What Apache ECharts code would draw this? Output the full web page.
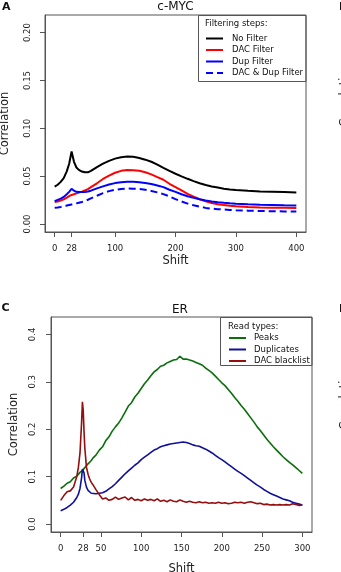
<!DOCTYPE html>
<html><head><meta charset="utf-8">
<script src="https://cdn.jsdelivr.net/npm/echarts@6/dist/echarts.min.js"></script>
<style>html,body{margin:0;padding:0;background:#fff}#c{width:341px;height:572px}</style>
</head><body><div id="c"></div>
<script>
// ---------- Panel A: c-MYC ----------
const shiftA = [0,5,10,15,20,24,28,32,36,40,45,50,55,60,70,80,90,100,110,120,130,140,150,160,170,180,190,200,210,220,230,240,250,260,270,280,290,300,320,340,360,380,400];
const noFilter = [0.039,0.041,0.044,0.048,0.055,0.063,0.0757,0.065,0.059,0.0565,0.0548,0.054,0.054,0.0555,0.0595,0.063,0.066,0.0683,0.0698,0.0704,0.0702,0.069,0.0672,0.065,0.062,0.0587,0.0555,0.0525,0.0498,0.0472,0.0448,0.0425,0.0408,0.0392,0.038,0.0368,0.036,0.0354,0.0346,0.034,0.0337,0.0334,0.0329];
const dacFilter = [0.0228,0.0235,0.0245,0.0258,0.0275,0.029,0.0303,0.031,0.032,0.0328,0.0338,0.035,0.0365,0.0385,0.0425,0.047,0.0505,0.0535,0.0555,0.0563,0.0562,0.0556,0.054,0.0518,0.049,0.0462,0.042,0.0385,0.035,0.0315,0.0285,0.0258,0.0237,0.022,0.0207,0.0197,0.019,0.0185,0.0178,0.0173,0.017,0.0169,0.0168];
const dupFilter = [0.0239,0.0252,0.0265,0.0283,0.031,0.0335,0.0368,0.0348,0.0336,0.0333,0.0333,0.0335,0.034,0.0348,0.0372,0.0393,0.0412,0.0427,0.0436,0.044,0.044,0.0437,0.0428,0.0418,0.0402,0.0385,0.0358,0.0335,0.031,0.029,0.0273,0.0258,0.0245,0.0235,0.0227,0.0221,0.0216,0.0212,0.0205,0.0201,0.0198,0.0195,0.0193];
const dacDupFilter = [0.0169,0.0173,0.0178,0.0184,0.0192,0.0198,0.0204,0.021,0.0215,0.0222,0.023,0.024,0.0253,0.0268,0.0295,0.0322,0.0343,0.0357,0.0366,0.037,0.0369,0.0365,0.0357,0.0345,0.033,0.0312,0.0288,0.026,0.0235,0.0213,0.0195,0.018,0.0168,0.016,0.0155,0.0151,0.0147,0.0144,0.0139,0.0135,0.0133,0.0131,0.013];
const namesA = ['No Filter','DAC Filter','Dup Filter','DAC & Dup Filter'];
const xTicksA = [0,28,100,200,300,400];
const yTicksA = [0,0.05,0.1,0.15,0.2];

// ---------- Panel C: ER ----------
const shiftC = [0,4,8,12,16,20,22,24,26,27,28,29,30,32,34,36,38,
  40,44,48,52,56,60,64,68,72,76,80,84,88,92,96,100,104,108,112,116,120,124,128,132,136,140,144,148,152,156,160,164,168,172,176,180,184,188,192,196,200,204,208,212,216,220,224,228,232,236,240,244,248,252,256,260,264,268,272,276,280,284,288,292,296,300];
const peaks = [0.075,0.080,0.086,0.089,0.097,0.101,0.105,0.109,0.112,0.113,0.117,0.116,0.119,0.121,0.127,0.130,0.134,
  0.139,0.146,0.156,0.163,0.176,0.184,0.196,0.205,0.213,0.224,0.236,0.249,0.256,0.268,0.276,0.286,0.296,0.304,0.313,0.321,0.326,0.333,0.335,0.340,0.343,0.346,0.347,0.354,0.348,0.348,0.346,0.344,0.341,0.338,0.335,0.329,0.324,0.319,0.312,0.305,0.298,0.292,0.284,0.276,0.267,0.259,0.250,0.242,0.233,0.224,0.215,0.205,0.197,0.188,0.179,0.171,0.163,0.156,0.149,0.142,0.136,0.130,0.125,0.119,0.113,0.107];
const duplicates = [0.028,0.031,0.035,0.040,0.046,0.056,0.063,0.075,0.098,0.116,0.120,0.108,0.092,0.078,0.071,0.067,0.065,
  0.065,0.064,0.065,0.066,0.069,0.074,0.079,0.085,0.092,0.099,0.106,0.112,0.118,0.124,0.129,0.136,0.141,0.146,0.151,0.156,0.159,0.163,0.165,0.167,0.169,0.170,0.171,0.172,0.173,0.172,0.170,0.167,0.165,0.164,0.161,0.158,0.154,0.150,0.145,0.140,0.136,0.131,0.126,0.121,0.116,0.111,0.107,0.102,0.097,0.092,0.087,0.082,0.078,0.073,0.069,0.065,0.062,0.059,0.056,0.053,0.051,0.049,0.046,0.044,0.042,0.040];
const dacBlacklist = [0.050,0.060,0.068,0.070,0.078,0.100,0.120,0.150,0.215,0.258,0.240,0.195,0.160,0.120,0.105,0.095,0.088,
  0.083,0.072,0.062,0.053,0.055,0.050,0.052,0.057,0.052,0.055,0.057,0.051,0.056,0.050,0.052,0.049,0.053,0.050,0.052,0.049,0.053,0.048,0.050,0.047,0.051,0.048,0.047,0.051,0.048,0.046,0.048,0.046,0.045,0.047,0.045,0.046,0.044,0.045,0.044,0.046,0.044,0.045,0.043,0.044,0.046,0.045,0.046,0.044,0.046,0.047,0.045,0.043,0.044,0.041,0.042,0.040,0.041,0.040,0.041,0.040,0.041,0.040,0.043,0.041,0.039,0.040];
const namesC = ['Peaks','Duplicates','DAC blacklist'];
const xTicksC = [0,28,50,100,150,200,250,300];
const yTicksC = [0,0.1,0.2,0.3,0.4];

const FONT = 'DejaVu Sans';
const BOX = '#555';
const pairs = (xs, ys) => xs.map((x, i) => [x, ys[i]]);

function xAxisCfg(grid, min, max, ticks, gap) {
  return {
    gridIndex: grid, type: 'value', min: min, max: max, position: 'bottom',
    splitLine: {show: false}, axisLine: {show: true, onZero: false, lineStyle: {color: BOX, width: 1}},
    axisTick: {show: true, inside: false, length: 5, lineStyle: {color: BOX, width: 1}, customValues: ticks},
    axisLabel: {fontSize: 8.5, fontFamily: FONT, color: '#222', margin: 12, customValues: ticks},
    name: 'Shift', nameLocation: 'middle', nameGap: gap,
    nameTextStyle: {fontSize: 11.5, fontFamily: FONT, color: '#222', verticalAlign: 'top'}
  };
}
function yAxisCfg(grid, min, max, ticks, dec, margin, gap) {
  return {
    gridIndex: grid, type: 'value', min: min, max: max, position: 'left',
    splitLine: {show: false}, axisLine: {show: true, onZero: false, lineStyle: {color: BOX, width: 1}},
    axisTick: {show: true, inside: false, length: 5, lineStyle: {color: BOX, width: 1}, customValues: ticks},
    axisLabel: {fontSize: 8.5, fontFamily: FONT, color: '#222', rotate: 90, margin: margin,
      customValues: ticks, formatter: v => v.toFixed(dec)},
    name: 'Correlation', nameLocation: 'middle', nameGap: gap,
    nameTextStyle: {fontSize: 11.5, fontFamily: FONT, color: '#222'}
  };
}
function lineSeries(name, xs, ys, color, width, xi, dash) {
  return {
    name: name, type: 'line', xAxisIndex: xi, yAxisIndex: xi,
    data: pairs(xs, ys), showSymbol: false, symbol: 'none', smooth: false,
    lineStyle: {color: color, width: width, type: dash || 'solid'},
    itemStyle: {color: color}
  };
}
const legendText = {fontSize: 8.5, fontFamily: FONT, color: '#111', lineHeight: 8};

const chart = echarts.init(document.getElementById('c'), null, {renderer: 'canvas'});
chart.setOption({
  animation: false,
  backgroundColor: '#fff',
  grid: [
    {left: 45, top: 15, width: 261, height: 217, show: true, borderColor: BOX, borderWidth: 1, backgroundColor: 'transparent', containLabel: false, outerBoundsMode: 'none'},
    {left: 51, top: 317, width: 261, height: 215, show: true, borderColor: BOX, borderWidth: 1, backgroundColor: 'transparent', containLabel: false, outerBoundsMode: 'none'}
  ],
  xAxis: [xAxisCfg(0, -16, 416, xTicksA, 23), xAxisCfg(1, -12, 312, xTicksC, 31)],
  yAxis: [yAxisCfg(0, -0.0084, 0.2184, yTicksA, 2, 13, 34), yAxisCfg(1, -0.0168, 0.4368, yTicksC, 1, 14, 31)],
  legend: [
    {data: namesA, orient: 'vertical', left: 205, top: 34, padding: 0, itemWidth: 17, itemHeight: 8, itemGap: 2.5,
     selectedMode: false, itemStyle: {opacity: 0, borderWidth: 0}, textStyle: Object.assign({padding: [0,0,0,4]}, legendText)},
    {data: namesC, orient: 'vertical', left: 228, top: 333.5, padding: 0, itemWidth: 17, itemHeight: 8, itemGap: 2.5,
     selectedMode: false, itemStyle: {opacity: 0, borderWidth: 0}, textStyle: Object.assign({padding: [0,0,0,3]}, legendText)}
  ],
  graphic: [
    {type: 'rect', shape: {x: 198.5, y: 15.5, width: 107.5, height: 66}, style: {fill: 'none', stroke: BOX, lineWidth: 1}},
    {type: 'rect', shape: {x: 220.5, y: 317.5, width: 91.5, height: 48}, style: {fill: 'none', stroke: BOX, lineWidth: 1}},
    {type: 'text', x: 205, y: 24, style: {text: 'Filtering steps:', font: '8.5px "DejaVu Sans"', fill: '#111', align: 'left', verticalAlign: 'middle'}},
    {type: 'text', x: 228, y: 326.5, style: {text: 'Read types:', font: '8.5px "DejaVu Sans"', fill: '#111', align: 'left', verticalAlign: 'middle'}},
    {type: 'text', x: 175.5, y: 6.5, style: {text: 'c-MYC', font: '12px "DejaVu Sans"', fill: '#111', align: 'center', verticalAlign: 'middle'}},
    {type: 'text', x: 180, y: 310, style: {text: 'ER', font: '12px "DejaVu Sans"', fill: '#111', align: 'center', verticalAlign: 'middle'}},
    {type: 'text', x: 2, y: 7, style: {text: 'A', font: 'bold 11px "DejaVu Sans"', fill: '#111', align: 'left', verticalAlign: 'middle'}},
    {type: 'text', x: 1.5, y: 308.5, style: {text: 'C', font: 'bold 11px "DejaVu Sans"', fill: '#111', align: 'left', verticalAlign: 'middle'}},
    {type: 'text', x: 339, y: 7, style: {text: 'B', font: 'bold 11px "DejaVu Sans"', fill: '#111', align: 'left', verticalAlign: 'middle'}},
    {type: 'text', x: 339, y: 309, style: {text: 'D', font: 'bold 11px "DejaVu Sans"', fill: '#111', align: 'left', verticalAlign: 'middle'}},
    {type: 'text', x: 345, y: 95, rotation: Math.PI / 2, style: {text: 'Correlation', font: '11.5px "DejaVu Sans"', fill: '#222', align: 'center', verticalAlign: 'middle'}},
    {type: 'text', x: 345, y: 398, rotation: Math.PI / 2, style: {text: 'Correlation', font: '11.5px "DejaVu Sans"', fill: '#222', align: 'center', verticalAlign: 'middle'}}
  ],
  series: [
    lineSeries(namesA[0], shiftA, noFilter, '#000000', 2, 0),
    lineSeries(namesA[1], shiftA, dacFilter, '#ff0000', 2, 0),
    lineSeries(namesA[2], shiftA, dupFilter, '#0000ff', 2, 0),
    lineSeries(namesA[3], shiftA, dacDupFilter, '#0000ff', 2, 0, [7, 4]),
    lineSeries(namesC[0], shiftC, peaks, '#0a6e0a', 1.6, 1),
    lineSeries(namesC[1], shiftC, duplicates, '#10109a', 1.6, 1),
    lineSeries(namesC[2], shiftC, dacBlacklist, '#950d0d', 1.6, 1)
  ]
});
</script></body></html>
